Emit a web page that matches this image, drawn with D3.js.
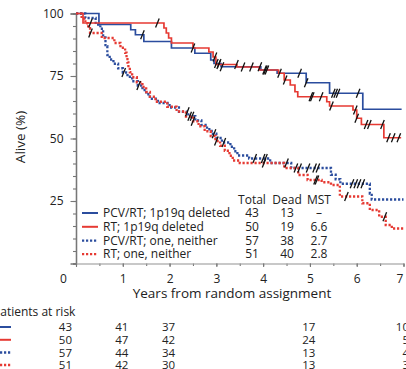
<!DOCTYPE html>
<html><head><meta charset="utf-8">
<script src="https://cdn.jsdelivr.net/npm/d3@7"></script>
<style>body{margin:0;background:#fff;overflow:hidden} svg{display:block;font-family:"Open Sans",sans-serif}</style>
</head><body><svg id="c" width="406" height="369"></svg>
<script>
// ---- data ----
const seriesLabels = ["PCV/RT; 1p19q deleted", "RT; 1p19q deleted", "PCV/RT; one, neither", "RT; one, neither"];
const totals = [43, 50, 57, 51];
const deaths = [13, 19, 38, 40];
const mst = ["–", "6.6", "2.7", "2.8"];

const pcvDelTimes = [0, 0.49, 1.17, 1.27, 1.45, 2.04, 2.54, 2.88, 2.95, 3.1, 3.95, 4.3, 4.92, 5.42, 6.13];
const pcvDelSurv  = [100, 95.6, 93.5, 91.5, 88.8, 86.2, 84.1, 81.4, 80.0, 78.7, 77.4, 76.1, 72.3, 68.1, 61.7];
const pcvDelEnd = 6.96;
const pcvDelCens = [1.42, 3.0, 3.06, 3.12, 3.93, 4.03, 4.08, 4.78, 4.92, 5.5, 5.55, 5.6, 6.03];

const rtDelTimes = [0, 0.15, 1.88, 1.93, 1.98, 2.04, 2.5, 2.84, 2.93, 2.99, 3.44, 3.92, 4.33, 4.45, 4.58, 4.68, 4.74, 5.36, 5.42, 5.92, 6.0, 6.1, 6.58];
const rtDelSurv  = [100, 96.2, 94.2, 92.2, 90.2, 88.2, 86.2, 84.6, 82.6, 79.6, 78.6, 77.4, 76.1, 73.4, 71.4, 68.7, 66.7, 64.7, 63.0, 61.4, 58.1, 55.6, 50.3];
const rtDelEnd = 6.95;
const rtDelCens = [0.31, 1.74, 2.5, 2.97, 3.05, 3.43, 3.57, 3.75, 4.05, 4.35, 4.47, 5.02, 5.05, 5.24, 5.46, 5.97, 6.0, 6.2, 6.27, 6.55, 6.68, 6.78, 6.9];

const pcvNonTimes = [0, 0.2, 0.42, 0.52, 0.58, 0.63, 0.67, 0.72, 0.8, 0.9, 1.0, 1.1, 1.2, 1.32, 1.42, 1.5, 1.58, 1.75, 2.0, 2.2, 2.4, 2.55, 2.68, 2.8, 2.9, 3.0, 3.12, 3.3, 3.38, 3.45, 3.7, 4.15, 4.6, 5.45, 5.55, 5.65, 6.28, 6.32];
const pcvNonSurv  = [100, 98.2, 95.6, 93.9, 90.4, 86.9, 83.4, 81.6, 79.9, 78.1, 76.4, 74.7, 72.9, 71.2, 69.4, 67.7, 65.9, 64.2, 62.4, 60.7, 58.9, 57.2, 55.4, 53.7, 51.9, 50.2, 48.4, 46.7, 44.9, 43.2, 42.0, 40.2, 38.2, 35.5, 33.7, 31.9, 28.0, 25.6];
const pcvNonEnd = 7.0;
const pcvNonCens = [1.02, 1.34, 2.38, 2.43, 2.48, 2.95, 3.16, 3.82, 4.0, 4.05, 4.5, 4.78, 4.96, 5.1, 5.17, 5.9, 5.98, 6.05, 6.13];

const rtNonTimes = [0, 0.12, 0.2, 0.26, 0.3, 0.55, 0.82, 0.95, 1.05, 1.08, 1.1, 1.12, 1.15, 1.2, 1.3, 1.42, 1.5, 1.58, 1.7, 1.95, 2.15, 2.35, 2.5, 2.62, 2.75, 2.88, 2.98, 3.08, 3.18, 3.28, 3.35, 3.5, 4.45, 4.75, 4.95, 5.25, 5.45, 5.64, 6.12, 6.28, 6.48, 6.62, 6.75];
const rtNonSurv  = [100, 98.0, 96.1, 94.1, 92.2, 90.2, 88.2, 86.3, 84.3, 82.4, 80.4, 78.4, 76.5, 74.5, 72.5, 70.6, 68.6, 66.7, 64.7, 62.7, 60.8, 58.8, 56.9, 54.9, 52.9, 51.0, 49.0, 47.1, 45.1, 43.1, 41.2, 40.2, 38.2, 35.4, 33.4, 32.5, 31.4, 26.8, 24.1, 21.4, 18.7, 15.4, 14.0];
const rtNonEnd = 7.0;
const rtNonCens = [0.31, 2.5, 3.0, 4.02, 4.7, 5.12, 5.15, 5.78, 6.6];

const xTicks = [0, 1, 2, 3, 4, 5, 6, 7];
const yTicks = [25, 50, 75, 100];

const riskTimes = [0, 1, 2, 5, 7];
const riskPcvDel = [43, 41, 37, 17, 10];
const riskRtDel = [50, 47, 42, 24, 5];
const riskPcvNon = [57, 44, 34, 13, 4];
const riskRtNon = [51, 42, 30, 13, 3];

// ---- drawing ----
const BLUE = "#2b4d9e", RED = "#e63a33";
const svg = d3.select("#c");
const x = d3.scaleLinear().domain([0, 7]).range([76, 403.5]);
const y = d3.scaleLinear().domain([0, 100]).range([263.5, 13.5]);

const series = [
  {t: pcvDelTimes, s: pcvDelSurv, end: pcvDelEnd, c: pcvDelCens, color: BLUE, dash: null},
  {t: rtDelTimes, s: rtDelSurv, end: rtDelEnd, c: rtDelCens, color: RED, dash: null},
  {t: pcvNonTimes, s: pcvNonSurv, end: pcvNonEnd, c: pcvNonCens, color: BLUE, dash: "2.2,1.8"},
  {t: rtNonTimes, s: rtNonSurv, end: rtNonEnd, c: rtNonCens, color: RED, dash: "2.2,1.8"}
];

// axes
const gy = svg.append("g").attr("transform", "translate(76,0)");
gy.call(d3.axisLeft(y).tickValues(d3.range(0, 101, 5)).tickSize(3).tickFormat(""));
const gy2 = svg.append("g").attr("transform", "translate(76,0)");
gy2.call(d3.axisLeft(y).tickValues(yTicks).tickSize(5.5).tickPadding(7).tickFormat(d3.format("d")));
[gy, gy2].forEach(g => {
  g.select(".domain").attr("stroke", "#777").attr("stroke-width", 1.3);
  g.selectAll(".tick line").attr("stroke", "#777").attr("stroke-width", 1.1);
  g.selectAll("text").attr("font-size", 12).attr("fill", "#222").attr("font-family", "Open Sans");
});

const gx = svg.append("g").attr("transform", "translate(0,263.5)");
gx.call(d3.axisBottom(x).tickValues(d3.range(0, 7.01, 0.5)).tickSize(2.5).tickFormat(""));
const gx2 = svg.append("g").attr("transform", "translate(0,263.5)");
gx2.call(d3.axisBottom(x).tickValues(xTicks).tickSize(3.5).tickPadding(7).tickFormat(d3.format("d")));
[gx, gx2].forEach(g => {
  g.select(".domain").attr("stroke", "#aaa").attr("stroke-width", 0.8);
  g.selectAll(".tick line").attr("stroke", "#777").attr("stroke-width", 1.1);
  g.selectAll("text").attr("font-size", 12).attr("fill", "#222").attr("font-family", "Open Sans");
});
gx2.selectAll(".tick").filter(d => d === 0).select("text").attr("dx", -13);
gx2.selectAll(".tick").filter(d => d === 7).select("text").attr("dx", -4);

// axis titles
svg.append("text").attr("x", 232).attr("y", 297.5).attr("text-anchor", "middle")
  .attr("font-size", 13.5).attr("fill", "#222").text("Years from random assignment");
svg.append("text").attr("transform", "translate(25,137) rotate(-90)").attr("text-anchor", "middle")
  .attr("font-size", 13.5).attr("fill", "#222").text("Alive (%)");

// curves
const line = d3.line().x(d => x(d[0])).y(d => y(d[1])).curve(d3.curveStepAfter);
function survAt(sr, t) {
  let v = sr.s[0];
  for (let i = 0; i < sr.t.length; i++) if (sr.t[i] <= t) v = sr.s[i];
  return v;
}
[2, 3, 0, 1].forEach(k => {
  const sr = series[k];
  const pts = sr.t.map((t, i) => [t, sr.s[i]]).concat([[sr.end, sr.s[sr.s.length - 1]]]);
  svg.append("path").attr("d", line(pts)).attr("fill", "none")
    .attr("stroke", sr.color).attr("stroke-width", sr.dash ? 2.3 : 1.7)
    .attr("stroke-dasharray", sr.dash);
});
series.forEach(sr => {
  svg.append("g").selectAll("line").data(sr.c).join("line")
    .attr("x1", d => x(d) - 1.8).attr("x2", d => x(d) + 1.8)
    .attr("y1", d => y(survAt(sr, d)) + 4.5).attr("y2", d => y(survAt(sr, d)) - 4.5)
    .attr("stroke", "#111").attr("stroke-width", 1.3);
});

// legend
const legY = [213, 226.8, 240.6, 254.2];
series.forEach((sr, i) => {
  svg.append("line").attr("x1", 82).attr("x2", 98).attr("y1", legY[i]).attr("y2", legY[i])
    .attr("stroke", sr.color).attr("stroke-width", sr.dash ? 2.3 : 2).attr("stroke-dasharray", sr.dash);
  svg.append("text").attr("x", 103).attr("y", legY[i]).attr("dy", "0.35em")
    .attr("font-size", 12).attr("fill", "#222").text(seriesLabels[i]);
  svg.append("text").attr("x", 252).attr("y", legY[i]).attr("dy", "0.35em").attr("text-anchor", "middle")
    .attr("font-size", 12).attr("fill", "#222").text(totals[i]);
  svg.append("text").attr("x", 287).attr("y", legY[i]).attr("dy", "0.35em").attr("text-anchor", "middle")
    .attr("font-size", 12).attr("fill", "#222").text(deaths[i]);
  svg.append("text").attr("x", 319).attr("y", legY[i]).attr("dy", "0.35em").attr("text-anchor", "middle")
    .attr("font-size", 12).attr("fill", "#222").text(mst[i]);
});
[["Total", 252], ["Dead", 287], ["MST", 319]].forEach(([t, cx]) => {
  svg.append("text").attr("x", cx).attr("y", 199.5).attr("dy", "0.35em").attr("text-anchor", "middle")
    .attr("font-size", 12).attr("fill", "#222").text(t);
});

// patients at risk
svg.append("text").attr("x", -7).attr("y", 312).attr("dy", "0.35em")
  .attr("font-size", 12).attr("fill", "#222").text("Patients at risk");
const riskRows = [riskPcvDel, riskRtDel, riskPcvNon, riskRtNon];
const riskY = [327, 339.8, 352.5, 365];
riskRows.forEach((row, i) => {
  const sr = series[i];
  svg.append("line").attr("x1", -4).attr("x2", 11).attr("y1", riskY[i]).attr("y2", riskY[i])
    .attr("stroke", sr.color).attr("stroke-width", sr.dash ? 2.3 : 2).attr("stroke-dasharray", sr.dash);
  row.forEach((v, j) => {
    const t = riskTimes[j];
    svg.append("text").attr("x", t === 0 ? 72 : x(t) + 5.5).attr("y", riskY[i]).attr("dy", "0.35em")
      .attr("text-anchor", "end").attr("font-size", 11.5).attr("fill", "#222").text(v);
  });
});
</script>
</body></html>
